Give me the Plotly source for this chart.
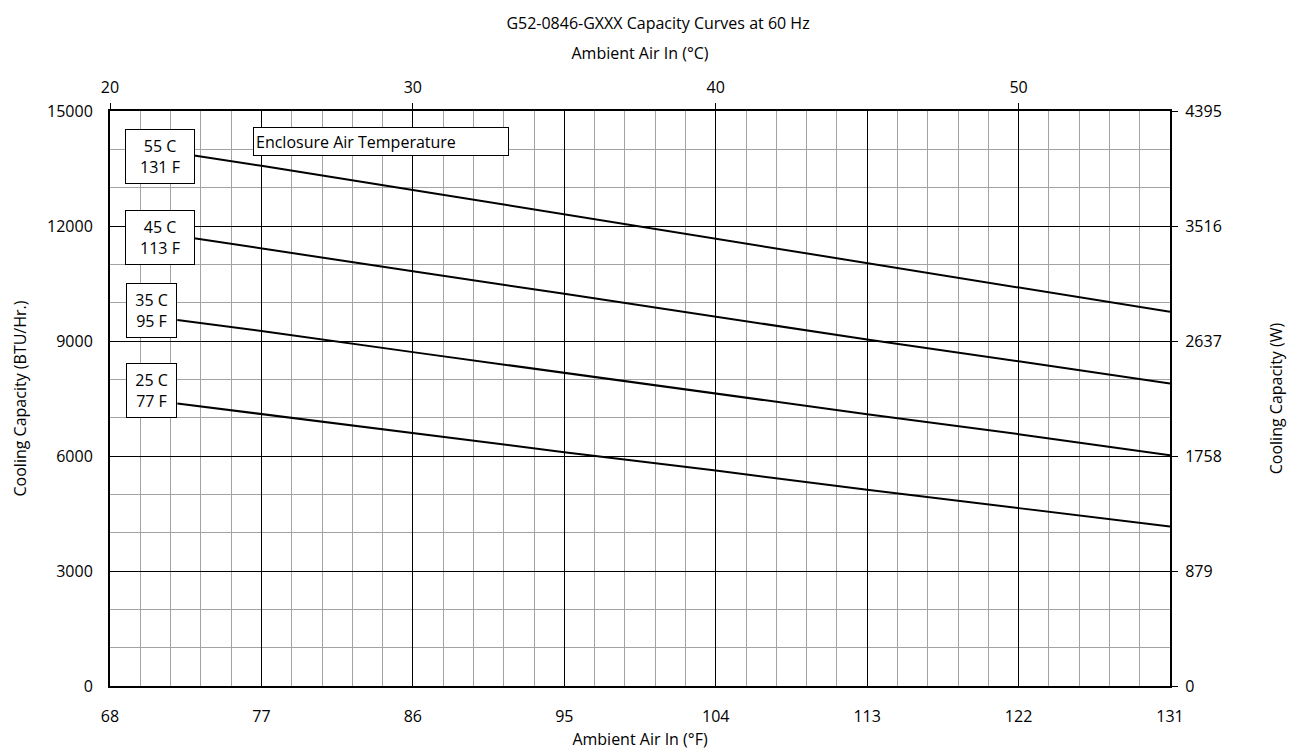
import plotly.graph_objects as go

# Ambient air in (°F); curves start at the right edge of their label boxes
temps_hi = [73, 77, 86, 95, 104, 113, 122, 131]
temps_lo = [72, 77, 86, 95, 104, 113, 122, 131]

# Cooling capacity (BTU/Hr.) per enclosure air temperature
cap_55c = [13840, 13570, 12940, 12300, 11660, 11030, 10390, 9760]
cap_45c = [11680, 11420, 10820, 10230, 9640, 9040, 8470, 7890]
cap_35c = [9550, 9260, 8710, 8170, 7630, 7090, 6570, 6020]
cap_25c = [7370, 7090, 6600, 6100, 5620, 5120, 4640, 4160]

series = [(temps_hi, cap_55c), (temps_hi, cap_45c), (temps_lo, cap_35c), (temps_lo, cap_25c)]
labels = ["55 C<br>131 F", "45 C<br>113 F", "35 C<br>95 F", "25 C<br>77 F"]
label_pos = [(70.96, 13826), (70.96, 11700), (70.45, 9796), (70.45, 7696)]
label_w = [64, 64, 45, 45]

c_ticks = [20, 30, 40, 50]
w_ticks = [0, 879, 1758, 2637, 3516, 4395]
btu_ticks = [0, 3000, 6000, 9000, 12000, 15000]

FONT = "Open Sans"
FS = 16
fig = go.Figure()

for xs, s in series:
    fig.add_trace(go.Scatter(x=xs, y=s, mode="lines",
                             line=dict(color="black", width=2),
                             showlegend=False, hoverinfo="skip"))

# invisible traces to anchor secondary axes
fig.add_trace(go.Scatter(x=[20, 55], y=[0, 15000], xaxis="x2", yaxis="y",
                         mode="markers", marker=dict(opacity=0), showlegend=False, hoverinfo="skip"))
fig.add_trace(go.Scatter(x=[68, 131], y=[0, 4395], xaxis="x", yaxis="y2",
                         mode="markers", marker=dict(opacity=0), showlegend=False, hoverinfo="skip"))

for txt, (lx, ly), w in zip(labels, label_pos, label_w):
    fig.add_annotation(x=lx, y=ly, xref="x", yref="y", text=txt, showarrow=False,
                       font=dict(family=FONT, size=FS, color="black"),
                       width=w, height=49,
                       bgcolor="white", bordercolor="black", borderwidth=1, borderpad=2,
                       align="center", valign="middle")

fig.add_annotation(x=84.1, y=14204, xref="x", yref="y", text="Enclosure Air Temperature",
                   showarrow=False, font=dict(family=FONT, size=FS, color="black"),
                   width=250, height=23, align="left",
                   bgcolor="white", bordercolor="black", borderwidth=1, borderpad=2)

fig.update_layout(
    width=1300, height=752,
    margin=dict(l=100, r=138, t=103, b=74),
    paper_bgcolor="white", plot_bgcolor="white",
    font=dict(family=FONT, size=FS, color="black"),
    title=dict(text="G52-0846-GXXX Capacity Curves at 60 Hz", x=0.5, xanchor="center",
               y=1 - 15 / 752, yanchor="middle", font=dict(family=FONT, size=FS)),
    xaxis=dict(range=[68, 131], tick0=68, dtick=9, showgrid=True,
               gridcolor="black", gridwidth=1.3,
               minor=dict(tick0=68, dtick=1.8, showgrid=True, gridcolor="#a3a3a3", gridwidth=1.3),
               showline=True, linecolor="black", linewidth=2, mirror=False,
               ticks="", ticklabelstandoff=15, zeroline=False,
               title=dict(text="Ambient Air In (°F)", standoff=8, font=dict(size=FS))),
    xaxis2=dict(overlaying="x", side="top", range=[20, 55], tickvals=c_ticks,
                showgrid=False, ticks="outside", ticklen=6, tickcolor="black",
                showline=True, linecolor="black", linewidth=2, zeroline=False,
                ticklabelstandoff=4,
                title=dict(text="Ambient Air In (°C)", standoff=12, font=dict(size=FS))),
    yaxis=dict(range=[0, 15000], tickvals=btu_ticks, tickformat="d", showgrid=True,
               gridcolor="black", gridwidth=1.3,
               minor=dict(tick0=0, dtick=1000, showgrid=True, gridcolor="#a3a3a3", gridwidth=1.3),
               showline=True, linecolor="black", linewidth=2,
               ticks="", ticklabelstandoff=12, zeroline=False,
               title=dict(text="Cooling Capacity (BTU/Hr.)", standoff=16, font=dict(size=FS))),
    yaxis2=dict(overlaying="y", side="right", range=[0, 4395], tickvals=w_ticks,
                showgrid=False, ticks="outside", ticklen=6, tickcolor="black",
                showline=True, linecolor="black", linewidth=2, zeroline=False,
                ticklabelstandoff=4,
                title=dict(text="Cooling Capacity (W)", standoff=50, font=dict(size=FS))),
)

fig.write_html("out.html")
